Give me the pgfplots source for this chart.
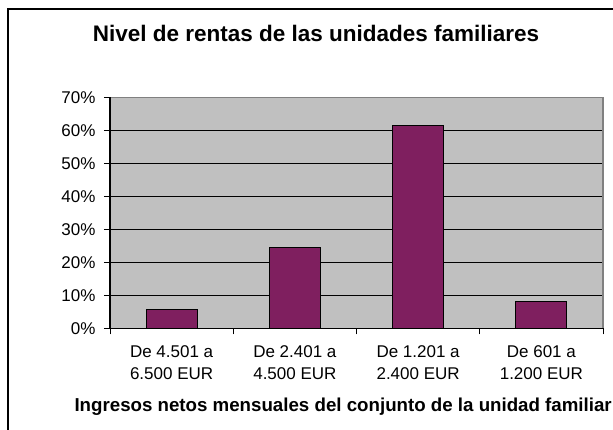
\documentclass[border=0pt]{standalone}
\usepackage{pgfplots}
\pgfplotsset{compat=1.18}
\usepackage{fontspec}
\setmainfont{Liberation Sans}
\definecolor{barc}{RGB}{127,31,95}
\definecolor{plotbg}{RGB}{192,192,192}
\definecolor{bordergray}{RGB}{128,128,128}
\begin{document}
\begin{tikzpicture}[x=1pt,y=1pt]
\useasboundingbox (0,0) rectangle (613,430);
\fill[white] (0,0) rectangle (613,430);
\begin{scope}
\clip (0,0) rectangle (613,430);
\draw[line width=1.5pt] (8,-20) -- (8,421) -- (640,421);
\end{scope}
\node[font=\bfseries\fontsize{22.5}{26}\selectfont, anchor=base] at (316,388) {Nivel de rentas de las unidades familiares};
\begin{axis}[
  at={(110pt,101.7pt)}, anchor=south west,
  width=493pt, height=231pt, scale only axis,
  xmin=0.5, xmax=4.5, ymin=0, ymax=70,
  axis background/.style={fill=plotbg},
  axis line style={draw=none},
  ybar, bar width=51pt,
  xtick={1,2,3,4},
  xticklabels={{De 4.501 a\\6.500 EUR},{De 2.401 a\\4.500 EUR},{De 1.201 a\\2.400 EUR},{De 601 a\\1.200 EUR}},
  minor xtick={0.5,1.5,2.5,3.5,4.5},
  ytick={0,10,...,70},
  yticklabel={\pgfmathprintnumber{\tick}\%},
  /pgf/number format/assume math mode=true,
  xtick pos=bottom, ytick pos=left,
  tick align=outside, major tick length=6pt, minor tick length=6pt,
  major x tick style={draw=none},
  minor x tick style={black, line width=1pt},
  y tick style={black, line width=1pt},
  ymajorgrids, major grid style={black, line width=1pt},
  tick label style={font=\fontsize{17}{22}\selectfont},
  xticklabel style={align=center, yshift=-8pt},
  yticklabel style={xshift=-5pt},
  clip=false,
]
\addplot[fill=barc, draw=black, line width=0.8pt] coordinates {(1,5.7) (2,24.6) (3,61.5) (4,8.2)};
\draw[bordergray, line width=1.5pt] (rel axis cs:0,1) -- (rel axis cs:1,1) -- (rel axis cs:1,0);
\draw[black, line width=1.5pt] (rel axis cs:0,1) -- (rel axis cs:0,0) -- (rel axis cs:1,0);
\end{axis}
\node[font=\bfseries\fontsize{18.7}{22}\selectfont, anchor=base west] at (71,18) {Ingresos netos mensuales del conjunto de la unidad familiar};
\end{tikzpicture}
\end{document}
